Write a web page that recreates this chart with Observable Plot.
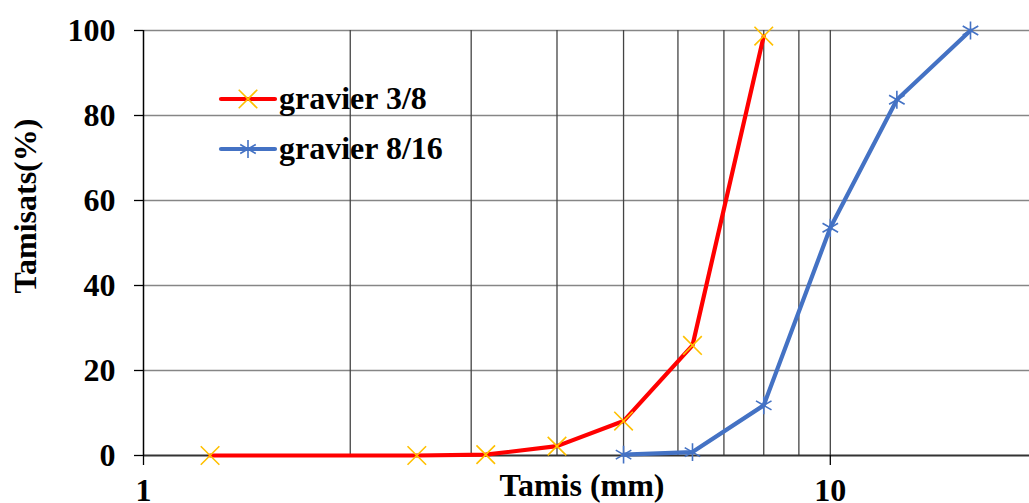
<!DOCTYPE html>
<html>
<head>
<meta charset="utf-8">
<script src="https://cdn.jsdelivr.net/npm/d3@7"></script>
<script src="https://cdn.jsdelivr.net/npm/@observablehq/plot@0.6"></script>
<style>
  html, body { margin: 0; padding: 0; background: #fff; }
  #chart { width: 1029px; height: 503px; overflow: hidden; }
</style>
</head>
<body>
<div id="chart"></div>
<script>
// Data
const sieveRed = [1.25, 2.5, 3.15, 4, 5, 6.3, 8];
const passRed = [0, 0, 0.2, 2.2, 8.1, 25.9, 98.7];
const sieveBlue = [5, 6.3, 8, 10, 12.5, 16];
const passBlue = [0.2, 0.8, 11.8, 53.6, 83.7, 100];
const seriesNames = ["gravier 3/8", "gravier 8/16"];
const yTicks = [0, 20, 40, 60, 80, 100];
const xTickLabels = [1, 10];
const xGridTicks = [2, 3, 4, 5, 6, 7, 8, 9, 10];
const xTitle = "Tamis (mm)";
const yTitle = "Tamisats(%)";

const red = "#FF0000", orange = "#FFC000", blue = "#4472C4";
const font = "'Liberation Serif', 'Times New Roman', serif";
const fs = "32px";
const markR = 8.5;

const dataRed = sieveRed.map((s, i) => ({s, p: passRed[i]}));
const dataBlue = sieveBlue.map((s, i) => ({s, p: passBlue[i]}));

const W = 1029, H = 503;
const chart = Plot.plot({
  width: W,
  height: H,
  marginLeft: 143,
  marginRight: 0,
  marginTop: 30,
  marginBottom: 48,
  style: {fontFamily: font, fontSize: fs, fontWeight: "bold", color: "#000", background: "#fff", overflow: "visible"},
  x: {type: "log", domain: [1, 19.5]},
  y: {domain: [0, 100]},
  marks: [
    Plot.gridY(yTicks.slice(1), {stroke: "#868686", strokeOpacity: 1, strokeWidth: 1.6}),
    Plot.gridX(xGridTicks, {stroke: "#444", strokeOpacity: 1, strokeWidth: 1.3}),
    Plot.ruleY([yTicks[0]], {stroke: "#333", strokeWidth: 2}),
    Plot.ruleX([xTickLabels[0]], {stroke: "#000", strokeWidth: 1.5}),
    Plot.axisY(yTicks, {tickSize: 9, tickPadding: 19, label: null, stroke: "#000", strokeWidth: 1.3}),
    Plot.axisX(xTickLabels, {tickSize: 10, tickPadding: 13, label: null, stroke: "#000", strokeWidth: 1.3, tickFormat: d => String(d)}),
    Plot.line(dataRed, {x: "s", y: "p", stroke: red, strokeWidth: 4.2}),
    Plot.line(dataBlue, {x: "s", y: "p", stroke: blue, strokeWidth: 4.2}),
    Plot.dot(dataRed, {x: "s", y: "p", symbol: "times", r: markR, stroke: orange, strokeWidth: 1.6}),
    Plot.dot(dataBlue, {x: "s", y: "p", symbol: "asterisk", r: markR, stroke: blue, strokeWidth: 1.6})
  ]
});
document.getElementById("chart").appendChild(chart);

// Axis titles and legend
const svg = d3.select(chart);
svg.append("text")
  .attr("x", 582).attr("y", 496)
  .attr("text-anchor", "middle")
  .style("font-family", font).style("font-size", fs).style("font-weight", "bold")
  .text(xTitle);
svg.append("text")
  .attr("transform", "translate(36,206) rotate(-90)")
  .attr("text-anchor", "middle")
  .style("font-family", font).style("font-size", fs).style("font-weight", "bold")
  .text(yTitle);

const legend = [
  {name: seriesNames[0], line: red, mark: orange, sym: d3.symbolTimes, y: 99},
  {name: seriesNames[1], line: blue, mark: blue, sym: d3.symbolAsterisk, y: 149}
];
legend.forEach(l => {
  const g = svg.append("g");
  g.append("line").attr("x1", 221).attr("x2", 275).attr("y1", l.y).attr("y2", l.y)
    .attr("stroke", l.line).attr("stroke-width", 4.2).attr("stroke-linecap", "round");
  g.append("path").attr("d", d3.symbol(l.sym, Math.PI * markR * markR)())
    .attr("transform", `translate(248,${l.y})`)
    .attr("fill", "none").attr("stroke", l.mark).attr("stroke-width", 1.6);
  g.append("text").attr("x", 279).attr("y", l.y + 10)
    .attr("text-anchor", "start")
    .style("font-family", font).style("font-size", fs).style("font-weight", "bold")
    .text(l.name);
});
</script>
</body>
</html>
